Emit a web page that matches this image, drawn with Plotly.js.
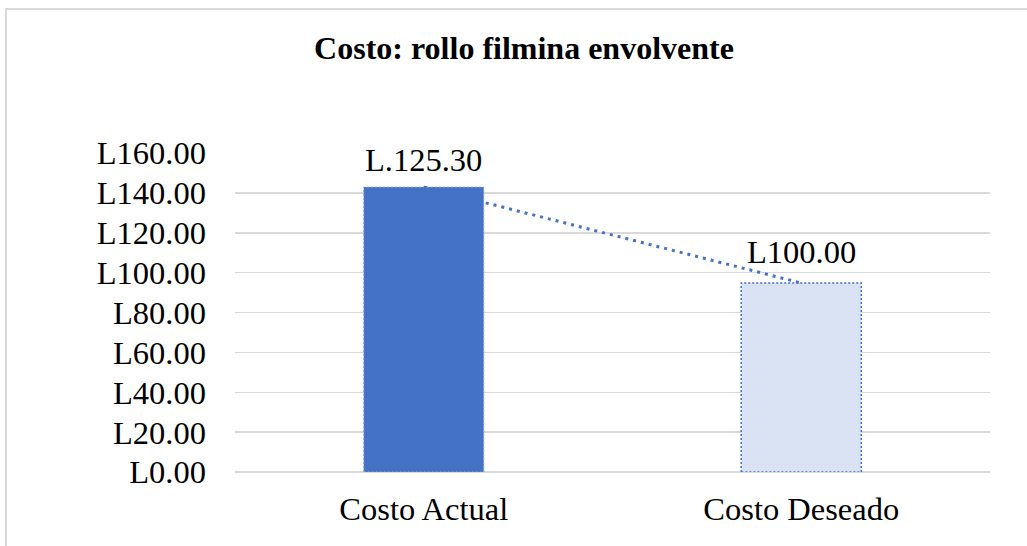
<!DOCTYPE html>
<html>
<head>
<meta charset="utf-8">
<script src="https://cdn.plot.ly/plotly-3.0.1.min.js"></script>
<style>
  html, body { margin: 0; padding: 0; background: #fff; overflow: hidden; }
  #wrap { position: relative; width: 1027px; height: 546px; }
  #chart { position: absolute; left: 0; top: 0; width: 1027px; height: 546px; }
  #frame { position: absolute; left: 5px; top: 8px; width: 1100px; height: 700px;
           border: 2px solid #d9d9d9; box-sizing: border-box; pointer-events: none; }
</style>
</head>
<body>
<div id="wrap">
  <div id="chart"></div>
  <div id="frame"></div>
</div>
<script>
// ---- data ----
const categories = ["Costo Actual", "Costo Deseado"];
const values = [142.9, 94.8];
const dataLabels = ["L.125.30", "L100.00"];
const yTickVals = [0, 20, 40, 60, 80, 100, 120, 140, 160];
const yTickText = ["L0.00", "L20.00", "L40.00", "L60.00", "L80.00", "L100.00", "L120.00", "L140.00", "L160.00"];
const chartTitle = "Costo: rollo filmina envolvente";

// ---- style ----
const FONT = "Liberation Serif, Times New Roman, serif";
const FS = 32.5;
const BAR_W = 0.318;
const fills = ["#4472c4", "#dae3f3"];
const edgeColors = ["#8faadc", "#4472c4"];
const edgeWidths = [1, 1.5];
const labelShifts = [7, 11];

const idx = categories.map((_, i) => i);

const traces = [];
traces.push({
  type: "bar",
  x: idx,
  y: values,
  width: BAR_W,
  marker: { color: fills, line: { width: 0 } },
  hoverinfo: "none",
  showlegend: false
});

// dotted outlines around each bar, derived from the bar values
idx.forEach(i => {
  const v = values[i];
  const l = i - BAR_W / 2, r = i + BAR_W / 2;
  traces.push({
    type: "scatter",
    mode: "lines",
    x: [l, l, r, r, l],
    y: [0, v, v, 0, 0],
    line: { color: edgeColors[i], width: edgeWidths[i], dash: "2px,2px" },
    hoverinfo: "none",
    showlegend: false
  });
});

// dotted connector between bar tops
traces.push({
  type: "scatter",
  mode: "lines",
  x: idx,
  y: values,
  line: { color: "#4472c4", width: 3, dash: "3px,5px" },
  hoverinfo: "none",
  showlegend: false
});

const annotations = idx.map(i => ({
  x: i, y: values[i], xref: "x", yref: "y",
  text: dataLabels[i],
  showarrow: false,
  xanchor: "center", yanchor: "bottom",
  yshift: labelShifts[i],
  font: { family: FONT, size: FS, color: "#000" }
}));

const layout = {
  width: 1027,
  height: 546,
  paper_bgcolor: "rgba(0,0,0,0)",
  plot_bgcolor: "rgba(0,0,0,0)",
  margin: { l: 235, r: 37, t: 153, b: 74, pad: 0 },
  title: {
    text: "<b>" + chartTitle + "</b>",
    font: { family: FONT, size: 32, color: "#000" },
    xref: "container", x: 524 / 1027, xanchor: "center",
    yref: "container", y: 1 - 48 / 546, yanchor: "middle"
  },
  annotations: annotations,
  xaxis: {
    range: [-0.5, 1.5],
    tickvals: idx,
    ticktext: categories,
    showgrid: false,
    zeroline: false,
    showline: false,
    ticks: "",
    ticklabelstandoff: 14,
    tickfont: { family: FONT, size: FS, color: "#000" },
    fixedrange: true
  },
  yaxis: {
    range: [0, 160],
    tickvals: yTickVals,
    ticktext: yTickText,
    showgrid: true,
    gridcolor: "#d9d9d9",
    gridwidth: 1.5,
    zeroline: true,
    zerolinecolor: "#d9d9d9",
    zerolinewidth: 1.5,
    showline: false,
    ticks: "",
    ticklabelstandoff: 28,
    tickfont: { family: FONT, size: FS, color: "#000" },
    fixedrange: true
  },
  font: { family: FONT }
};

Plotly.newPlot("chart", traces, layout, { displayModeBar: false, staticPlot: true });
</script>
</body>
</html>
